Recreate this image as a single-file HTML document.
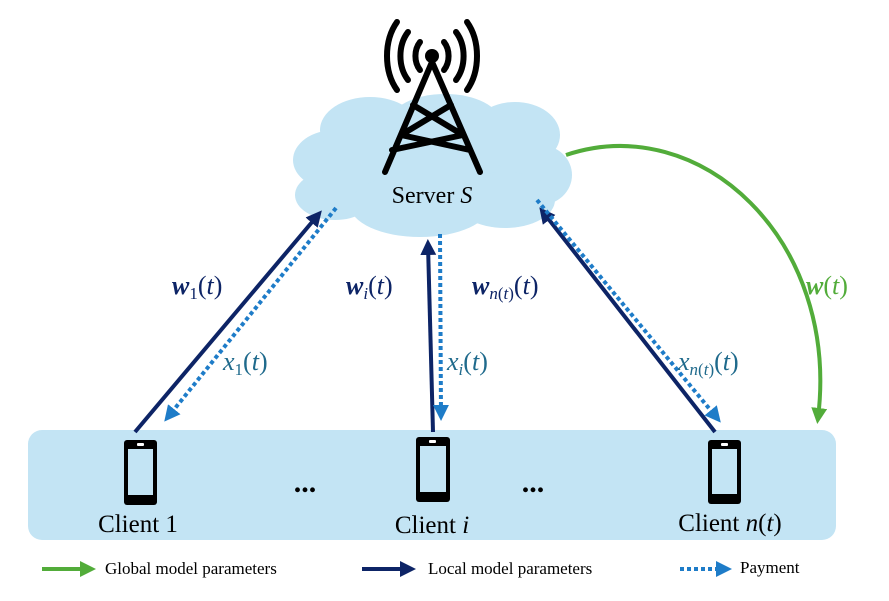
<!DOCTYPE html>
<html><head><style>
body{margin:0;background:#fff;}
svg{display:block;}
text{font-family:"Liberation Serif",serif;}
</style></head><body>
<svg width="889" height="601" viewBox="0 0 889 601" xmlns="http://www.w3.org/2000/svg">
<defs>
<marker id="an" markerWidth="4" markerHeight="4" refX="2.5" refY="2" orient="auto" markerUnits="strokeWidth"><path d="M0,0 L4,2 L0,4 z" fill="#0d2466"/></marker>
<marker id="ab" markerWidth="4" markerHeight="4" refX="2.5" refY="2" orient="auto" markerUnits="strokeWidth"><path d="M0,0 L4,2 L0,4 z" fill="#1e7cc8"/></marker>
<marker id="ag" markerWidth="4" markerHeight="4" refX="2.5" refY="2" orient="auto" markerUnits="strokeWidth"><path d="M0,0 L4,2 L0,4 z" fill="#52ac3a"/></marker>
</defs>
<g fill="#c3e4f4">
<ellipse cx="432" cy="170" rx="120" ry="55"/>
<ellipse cx="335" cy="160" rx="42" ry="30"/>
<ellipse cx="370" cy="130" rx="50" ry="33"/>
<ellipse cx="445" cy="122" rx="55" ry="28"/>
<ellipse cx="515" cy="135" rx="45" ry="33"/>
<ellipse cx="540" cy="175" rx="32" ry="30"/>
<ellipse cx="335" cy="195" rx="40" ry="25"/>
<ellipse cx="420" cy="205" rx="70" ry="32"/>
<ellipse cx="505" cy="200" rx="50" ry="28"/>
</g>
<g stroke="#000" stroke-width="6" fill="none" stroke-linecap="round">
<path d="M432,62 L385,172 M432,62 L480,172 M413,105 L463,135 M451,105 L401,135 M401,135 L470,150 M463,135 L392,150"/>
<path d="M420,70 A16,20 0 0 1 420,42 M444,42 A16,20 0 0 1 444,70"/>
<path d="M408,80 A26,34 0 0 1 408,32 M456,32 A26,34 0 0 1 456,80"/>
<path d="M397,90 A34,48 0 0 1 397,22 M467,22 A34,48 0 0 1 467,90"/>
</g>
<circle cx="432" cy="56" r="7" fill="#000"/>
<text x="432" y="203" font-size="24" text-anchor="middle">Server <tspan font-style="italic">S</tspan></text>
<rect x="28" y="430" width="808" height="110" rx="14" fill="#c3e4f4"/>
<g>
<rect x="124" y="440" width="33" height="65" rx="3" fill="#000"/><rect x="128" y="449" width="25" height="46" fill="#c3e4f4"/><rect x="137" y="443" width="7" height="3" rx="1" fill="#fff"/>
<rect x="416" y="437" width="34" height="65" rx="3" fill="#000"/><rect x="420" y="446" width="26" height="46" fill="#c3e4f4"/><rect x="429" y="440" width="7" height="3" rx="1" fill="#fff"/>
<rect x="708" y="440" width="33" height="64" rx="3" fill="#000"/><rect x="712" y="449" width="25" height="45" fill="#c3e4f4"/><rect x="721" y="443" width="7" height="3" rx="1" fill="#fff"/>
</g>
<text x="305" y="492" font-size="30" font-weight="bold" text-anchor="middle">...</text>
<text x="533" y="492" font-size="30" font-weight="bold" text-anchor="middle">...</text>
<text x="138" y="532" font-size="25" text-anchor="middle">Client 1</text>
<text x="432" y="533" font-size="25" text-anchor="middle">Client <tspan font-style="italic">i</tspan></text>
<text x="730" y="531" font-size="25" text-anchor="middle">Client <tspan font-style="italic">n</tspan>(<tspan font-style="italic">t</tspan>)</text>
<g stroke-width="4" fill="none">
<line x1="135" y1="432" x2="318" y2="215" stroke="#0d2466" marker-end="url(#an)"/>
<line x1="336" y1="208" x2="168" y2="417" stroke="#1e7cc8" stroke-dasharray="4,3" marker-end="url(#ab)"/>
<line x1="433" y1="432" x2="428" y2="245" stroke="#0d2466" marker-end="url(#an)"/>
<line x1="440" y1="234" x2="441" y2="415" stroke="#1e7cc8" stroke-dasharray="4,3" marker-end="url(#ab)"/>
<line x1="715" y1="432" x2="543" y2="212" stroke="#0d2466" marker-end="url(#an)"/>
<line x1="537" y1="200" x2="717" y2="418" stroke="#1e7cc8" stroke-dasharray="4,3" marker-end="url(#ab)"/>
<path d="M566,155 C700,110 840,240 818,418" stroke="#52ac3a" marker-end="url(#ag)"/>
</g>
<g font-size="26">
<text x="172" y="294" fill="#0d2466"><tspan font-weight="bold" font-style="italic">w</tspan><tspan font-size="17" dy="5">1</tspan><tspan dy="-5">(</tspan><tspan font-style="italic">t</tspan>)</text>
<text x="346" y="294" fill="#0d2466"><tspan font-weight="bold" font-style="italic">w</tspan><tspan font-size="17" dy="5" font-style="italic">i</tspan><tspan dy="-5">(</tspan><tspan font-style="italic">t</tspan>)</text>
<text x="472" y="294" fill="#0d2466"><tspan font-weight="bold" font-style="italic">w</tspan><tspan font-size="17" dy="5"><tspan font-style="italic">n</tspan>(<tspan font-style="italic">t</tspan>)</tspan><tspan dy="-5">(</tspan><tspan font-style="italic">t</tspan>)</text>
<text x="223" y="370" fill="#1f6a8c"><tspan font-style="italic">x</tspan><tspan font-size="17" dy="5">1</tspan><tspan dy="-5">(</tspan><tspan font-style="italic">t</tspan>)</text>
<text x="447" y="370" fill="#1f6a8c"><tspan font-style="italic">x</tspan><tspan font-size="17" dy="5" font-style="italic">i</tspan><tspan dy="-5">(</tspan><tspan font-style="italic">t</tspan>)</text>
<text x="678" y="370" fill="#1f6a8c"><tspan font-style="italic">x</tspan><tspan font-size="17" dy="5"><tspan font-style="italic">n</tspan>(<tspan font-style="italic">t</tspan>)</tspan><tspan dy="-5">(</tspan><tspan font-style="italic">t</tspan>)</text>
<text x="806" y="294" fill="#52ac3a"><tspan font-weight="bold" font-style="italic">w</tspan>(<tspan font-style="italic">t</tspan>)</text>
</g>
<g stroke-width="4" fill="none">
<line x1="42" y1="569" x2="90" y2="569" stroke="#52ac3a" marker-end="url(#ag)"/>
<line x1="362" y1="569" x2="410" y2="569" stroke="#0d2466" marker-end="url(#an)"/>
<line x1="680" y1="569" x2="726" y2="569" stroke="#1e7cc8" stroke-dasharray="4,3" marker-end="url(#ab)"/>
</g>
<text x="105" y="574" font-size="17">Global model parameters</text>
<text x="428" y="574" font-size="17">Local model parameters</text>
<text x="740" y="573" font-size="17">Payment</text>
</svg>
</body></html>
